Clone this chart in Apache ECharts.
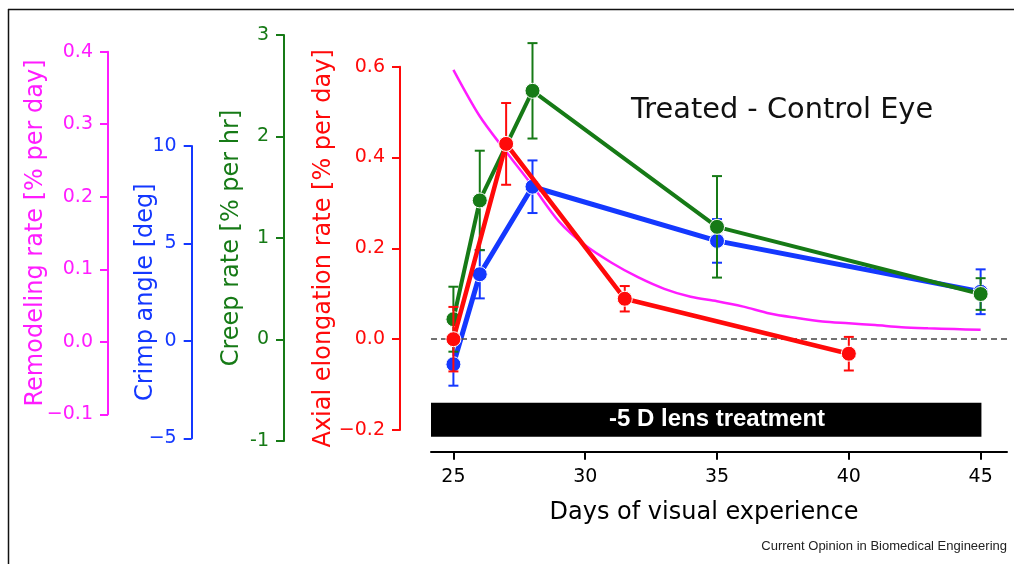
<!DOCTYPE html>
<html><head><meta charset="utf-8">
<script src="https://cdn.jsdelivr.net/npm/echarts@6/dist/echarts.min.js"></script>
<style>html,body{margin:0;padding:0;background:#fff}#c{width:1014px;height:564px}</style>
</head><body><div id="c"></div>
<script>
// ---------- data ----------
const creepDays = [25, 26, 28, 35, 45];
const creepRate = [0.20, 1.37, 2.45, 1.11, 0.448];
const creepErr  = [0.32, 0.49, 0.47, 0.50, 0.156];

const crimpDays  = [25, 26, 28, 35, 45];
const crimpAngle = [-1.2, 3.42, 7.91, 5.13, 2.52];
const crimpErr   = [1.1, 1.24, 1.35, 1.12, 1.15];

const axialDays = [25, 27, 31.5, 40];
const axialRate = [0.0, 0.43, 0.089, -0.032];
const axialErr  = [0.071, 0.09, 0.028, 0.037];

const remodelDays = [25, 26, 27, 28, 29, 30, 31, 32, 33, 34, 35, 36, 37, 38, 39, 40, 41, 42, 43, 44, 45];
const remodelRate = [0.375, 0.311, 0.262, 0.215, 0.166, 0.133, 0.109, 0.089, 0.073, 0.062, 0.056, 0.0485, 0.039, 0.033, 0.028, 0.0255, 0.023, 0.020, 0.0185, 0.0175, 0.0165];

const xTicks = [25, 30, 35, 40, 45];
const treatmentSpan = [24.15, 45.03];
const treatmentLabel = '-5 D lens treatment';

// ---------- styling ----------
const C_RED = '#ff0a0a', C_GREEN = '#167a16', C_BLUE = '#1438ff', C_MAG = '#ff1cff';
const FONT = 'DejaVu Sans';
const X_MIN = 24.15, X_MAX = 46;
const minus = s => String(s).replace('-', '\u2212');

const pairs = (xs, ys) => xs.map((x, i) => [x, ys[i]]);
const errRows = (xs, ys, es) => xs.map((x, i) => [x, ys[i] - es[i], ys[i] + es[i]]);

function errRender(color) {
  return function (params, api) {
    const x = api.value(0), lo = api.value(1), hi = api.value(2);
    const p1 = api.coord([x, hi]), p2 = api.coord([x, lo]);
    const w = 5;
    const style = { stroke: color, lineWidth: 2 };
    return { type: 'group', children: [
      { type: 'line', shape: { x1: p1[0], y1: p1[1], x2: p2[0], y2: p2[1] }, style },
      { type: 'line', shape: { x1: p1[0] - w, y1: p1[1], x2: p1[0] + w, y2: p1[1] }, style },
      { type: 'line', shape: { x1: p2[0] - w, y1: p2[1], x2: p2[0] + w, y2: p2[1] }, style }
    ]};
  };
}

const gridBase = { left: 431, right: 7 };
const grids = [
  Object.assign({ top: 66.7, height: 363.3 }, gridBase), // red (axial)
  Object.assign({ top: 35, height: 406 }, gridBase),     // green (creep)
  Object.assign({ top: 146, height: 292.3 }, gridBase),  // blue (crimp)
  Object.assign({ top: 51.7, height: 362.6 }, gridBase)  // magenta (remodeling)
];

function hiddenX(i) {
  return { type: 'value', gridIndex: i, min: X_MIN, max: X_MAX, show: false };
}

function yAx(i, color, offset, min, max, interval, name, gap, fmt) {
  return {
    type: 'value', gridIndex: i, position: 'left', offset: offset,
    min: min, max: max, interval: interval,
    axisLine: { show: true, onZero: false, lineStyle: { color: color, width: 2 } },
    axisTick: { show: true, length: 8, lineStyle: { color: color, width: 2 } },
    axisLabel: { color: color, fontSize: 19, fontFamily: FONT, margin: 15, formatter: fmt },
    splitLine: { show: false },
    name: name, nameLocation: 'middle', nameGap: gap, nameMoveOverlap: false,
    nameTextStyle: { color: color, fontSize: 24, fontFamily: FONT }
  };
}

const option = {
  animation: false,
  backgroundColor: '#fff',
  title: {
    text: 'Treated - Control Eye', left: 631, top: 96, padding: 0,
    textStyle: { fontSize: 28.8, fontWeight: 'normal', fontFamily: FONT, color: '#111' }
  },
  grid: grids,
  xAxis: [
    {
      type: 'value', gridIndex: 0, min: X_MIN, max: X_MAX, position: 'bottom', offset: 21.7,
      axisLine: { show: true, onZero: false, lineStyle: { color: '#000', width: 2 } },
      axisTick: { show: true, customValues: xTicks, length: 8, lineStyle: { color: '#000', width: 2 } },
      axisLabel: { customValues: xTicks, color: '#000', fontSize: 19, fontFamily: FONT, margin: 16 },
      splitLine: { show: false },
      name: 'Days of visual experience', nameLocation: 'middle', nameGap: 49, nameMoveOverlap: false,
      nameTextStyle: { color: '#000', fontSize: 24, fontFamily: FONT, padding: [0, 30, 0, 0] }
    },
    hiddenX(1), hiddenX(2), hiddenX(3)
  ],
  yAxis: [
    yAx(0, C_RED, 31, -0.2, 0.6, 0.2, 'Axial elongation rate [% per day]', 64, v => minus(v.toFixed(1))),
    yAx(1, C_GREEN, 147, -1, 3, 1, 'Creep rate [% per hr]', 40, v => String(Math.round(v))),
    yAx(2, C_BLUE, 239.3, -5, 10, 5, 'Crimp angle [deg]', 34, v => minus(Math.round(v))),
    yAx(3, C_MAG, 323, -0.1, 0.4, 0.1, 'Remodeling rate [% per day]', 60, v => minus(v.toFixed(1)))
  ],
  series: [
    // treatment bar
    {
      type: 'custom', xAxisIndex: 0, yAxisIndex: 0, clip: false, silent: true, z: 1,
      data: [treatmentSpan],
      encode: { x: [0, 1] },
      renderItem: function (params, api) {
        const a = api.coord([api.value(0), -0.14]);
        const b = api.coord([api.value(1), -0.215]);
        const t = api.coord([35, -0.1775]);
        return { type: 'group', children: [
          { type: 'rect', shape: { x: a[0], y: a[1], width: b[0] - a[0], height: b[1] - a[1] },
            style: { fill: '#000' } },
          { type: 'text', x: t[0], y: t[1],
            style: { text: treatmentLabel, fill: '#fff', fontSize: 24, fontWeight: 'bold',
                     fontFamily: 'Liberation Sans', align: 'center', verticalAlign: 'middle' } }
        ]};
      }
    },
    // remodeling rate curve
    {
      type: 'line', xAxisIndex: 3, yAxisIndex: 3, z: 2, showSymbol: false, symbol: 'none',
      smooth: 0.3,
      data: pairs(remodelDays, remodelRate),
      lineStyle: { color: C_MAG, width: 2.5 }, itemStyle: { color: C_MAG }
    },
    // crimp angle
    {
      type: 'line', xAxisIndex: 2, yAxisIndex: 2, z: 3,
      data: pairs(crimpDays, crimpAngle),
      symbol: 'circle', symbolSize: 15,
      lineStyle: { color: C_BLUE, width: 5 },
      itemStyle: { color: C_BLUE, borderColor: '#fff', borderWidth: 1 }
    },
    {
      type: 'custom', xAxisIndex: 2, yAxisIndex: 2, z: 3, clip: false,
      data: errRows(crimpDays, crimpAngle, crimpErr), encode: { x: 0, y: [1, 2] },
      renderItem: errRender(C_BLUE)
    },
    // creep rate
    {
      type: 'line', xAxisIndex: 1, yAxisIndex: 1, z: 4,
      data: pairs(creepDays, creepRate),
      symbol: 'circle', symbolSize: 15,
      lineStyle: { color: C_GREEN, width: 4 },
      itemStyle: { color: C_GREEN, borderColor: '#fff', borderWidth: 1 }
    },
    {
      type: 'custom', xAxisIndex: 1, yAxisIndex: 1, z: 4, clip: false,
      data: errRows(creepDays, creepRate, creepErr), encode: { x: 0, y: [1, 2] },
      renderItem: errRender(C_GREEN)
    },
    // axial elongation rate
    {
      type: 'line', xAxisIndex: 0, yAxisIndex: 0, z: 5,
      data: pairs(axialDays, axialRate),
      symbol: 'circle', symbolSize: 15,
      lineStyle: { color: C_RED, width: 4.5 },
      itemStyle: { color: C_RED, borderColor: '#fff', borderWidth: 1 },
      markLine: {
        silent: true, symbol: 'none', label: { show: false },
        lineStyle: { color: '#444', width: 1.5, type: [6, 4] },
        data: [{ yAxis: 0 }]
      }
    },
    {
      type: 'custom', xAxisIndex: 0, yAxisIndex: 0, z: 5, clip: false,
      data: errRows(axialDays, axialRate, axialErr), encode: { x: 0, y: [1, 2] },
      renderItem: errRender(C_RED)
    }
  ],
  graphic: [
    { type: 'line', shape: { x1: 8, y1: 9.5, x2: 1014, y2: 9.5 }, style: { stroke: '#111', lineWidth: 1.5 } },
    { type: 'line', shape: { x1: 8.5, y1: 9, x2: 8.5, y2: 564 }, style: { stroke: '#111', lineWidth: 1.5 } },
    { type: 'text', right: 7, top: 540,
      style: { text: 'Current Opinion in Biomedical Engineering', fill: '#222', fontSize: 13,
               fontFamily: 'Liberation Sans' } }
  ]
};

const chart = echarts.init(document.getElementById('c'), null, { renderer: 'canvas' });
chart.setOption(option);
</script>
</body></html>
